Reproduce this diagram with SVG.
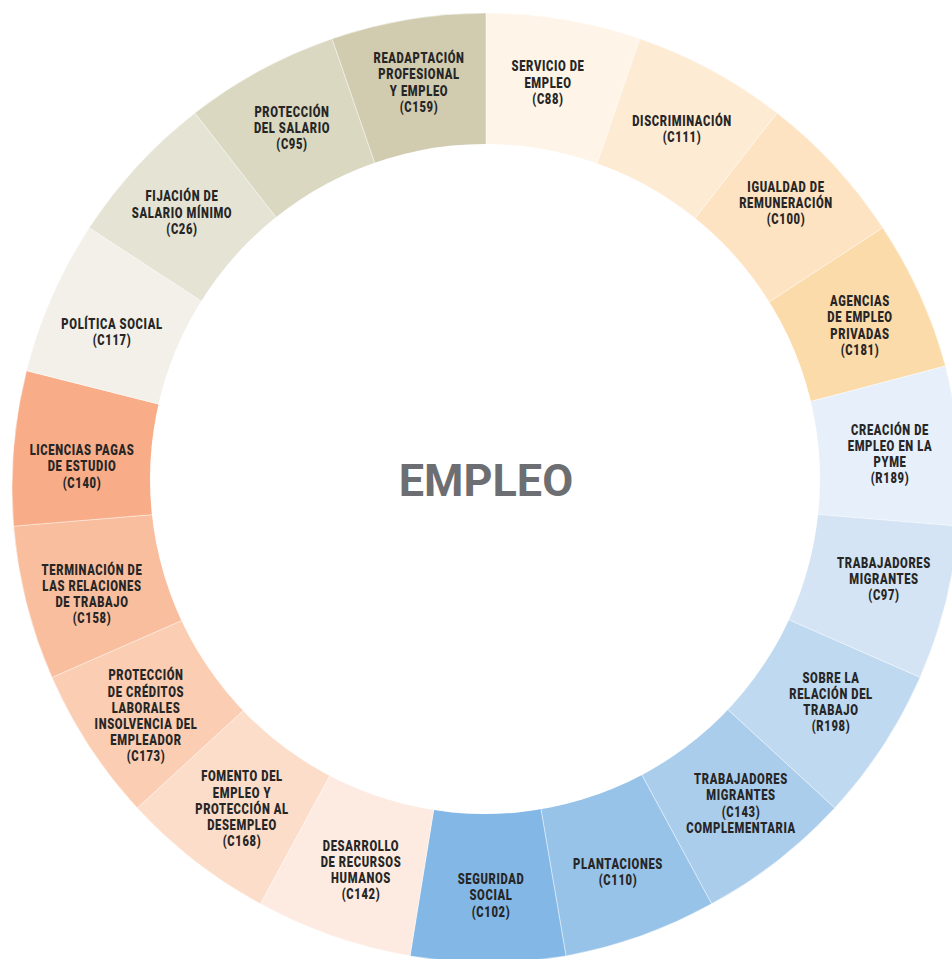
<svg xmlns="http://www.w3.org/2000/svg" width="952" height="959" viewBox="0 0 952 959">
<style>
.seg{stroke:#ffffff;stroke-width:0.6;stroke-opacity:0.7}
.lbl{font-family:Roboto,"Liberation Sans",sans-serif;font-weight:900;font-size:14px;letter-spacing:0.8px;fill:#262626;text-anchor:middle}
.hub{font-family:Roboto,"Liberation Sans",sans-serif;font-weight:700;font-size:45px;fill:#6d6e71;text-anchor:middle}
</style>
<rect width="952" height="959" fill="#ffffff"/>
<g id="segments">
<g id="n-c88"><path class="seg" fill="#fef4e8" d="M486 487 L486 13 A474 474 0 0 1 639.91 38.68 Z"/>
<text class="lbl" transform="translate(548 0) scale(0.8 1)"><tspan x="0" y="71.5">SERVICIO DE</tspan><tspan x="0" dy="16.3">EMPLEO</tspan><tspan x="0" dy="16.3">(C88)</tspan></text></g>
<g id="n-c111"><path class="seg" fill="#feebd4" d="M486 487 L639.91 38.68 A474 474 0 0 1 777.14 112.95 Z"/>
<text class="lbl" transform="translate(682 0) scale(0.8 1)"><tspan x="0" y="126.5">DISCRIMINACIÓN</tspan><tspan x="0" dy="16">(C111)</tspan></text></g>
<g id="n-c100"><path class="seg" fill="#fde3c1" d="M486 487 L777.14 112.95 A474 474 0 0 1 882.82 227.75 Z"/>
<text class="lbl" transform="translate(786 0) scale(0.8 1)"><tspan x="0" y="192.5">IGUALDAD DE</tspan><tspan x="0" dy="16">REMUNERACIÓN</tspan><tspan x="0" dy="16">(C100)</tspan></text></g>
<g id="n-c181"><path class="seg" fill="#fcdbaa" d="M486 487 L882.82 227.75 A474 474 0 0 1 945.5 366 Z"/>
<text class="lbl" transform="translate(860 0) scale(0.8 1)"><tspan x="0" y="306">AGENCIAS</tspan><tspan x="0" dy="16.3">DE EMPLEO</tspan><tspan x="0" dy="16.3">PRIVADAS</tspan><tspan x="0" dy="16.3">(C181)</tspan></text></g>
<g id="n-r189"><path class="seg" fill="#e6effa" d="M486 487 L945.5 366 A474 474 0 0 1 958.38 526.14 Z"/>
<text class="lbl" transform="translate(890 0) scale(0.8 1)"><tspan x="0" y="435.5">CREACIÓN DE</tspan><tspan x="0" dy="16">EMPLEO EN LA</tspan><tspan x="0" dy="16">PYME</tspan><tspan x="0" dy="16">(R189)</tspan></text></g>
<g id="n-c97"><path class="seg" fill="#d4e4f4" d="M486 487 L958.38 526.14 A474 474 0 0 1 920.07 677.41 Z"/>
<text class="lbl" transform="translate(884 0) scale(0.8 1)"><tspan x="0" y="568">TRABAJADORES</tspan><tspan x="0" dy="16">MIGRANTES</tspan><tspan x="0" dy="16">(C97)</tspan></text></g>
<g id="n-r198"><path class="seg" fill="#bfd9f0" d="M486 487 L920.07 677.41 A474 474 0 0 1 834.73 808.03 Z"/>
<text class="lbl" transform="translate(831 0) scale(0.8 1)"><tspan x="0" y="683.5">SOBRE LA</tspan><tspan x="0" dy="16">RELACIÓN DEL</tspan><tspan x="0" dy="16">TRABAJO</tspan><tspan x="0" dy="16">(R198)</tspan></text></g>
<g id="n-c143"><path class="seg" fill="#abcdec" d="M486 487 L834.73 808.03 A474 474 0 0 1 711.6 903.87 Z"/>
<text class="lbl" transform="translate(741 0) scale(0.8 1)"><tspan x="0" y="784">TRABAJADORES</tspan><tspan x="0" dy="16.3">MIGRANTES</tspan><tspan x="0" dy="16.3">(C143)</tspan><tspan x="0" dy="16.3">COMPLEMENTARIA</tspan></text></g>
<g id="n-c110"><path class="seg" fill="#98c3e8" d="M486 487 L711.6 903.87 A474 474 0 0 1 566 956 Z"/>
<text class="lbl" transform="translate(618 0) scale(0.8 1)"><tspan x="0" y="869">PLANTACIONES</tspan><tspan x="0" dy="16">(C110)</tspan></text></g>
<g id="n-c102"><path class="seg" fill="#83b8e6" d="M486 487 L566 956 A474 474 0 0 1 410 956 Z"/>
<text class="lbl" transform="translate(491 0) scale(0.8 1)"><tspan x="0" y="884">SEGURIDAD</tspan><tspan x="0" dy="16.5">SOCIAL</tspan><tspan x="0" dy="16.5">(C102)</tspan></text></g>
<g id="n-c142"><path class="seg" fill="#fdebe1" d="M486 487 L410 956 A474 474 0 0 1 260.4 903.87 Z"/>
<text class="lbl" transform="translate(361 0) scale(0.8 1)"><tspan x="0" y="851">DESARROLLO</tspan><tspan x="0" dy="16">DE RECURSOS</tspan><tspan x="0" dy="16">HUMANOS</tspan><tspan x="0" dy="16">(C142)</tspan></text></g>
<g id="n-c168"><path class="seg" fill="#fcddca" d="M486 487 L260.4 903.87 A474 474 0 0 1 137.27 808.03 Z"/>
<text class="lbl" transform="translate(242 0) scale(0.8 1)"><tspan x="0" y="781.5">FOMENTO DEL</tspan><tspan x="0" dy="16.2">EMPLEO Y</tspan><tspan x="0" dy="16.2">PROTECCIÓN AL</tspan><tspan x="0" dy="16.2">DESEMPLEO</tspan><tspan x="0" dy="16.2">(C168)</tspan></text></g>
<g id="n-c173"><path class="seg" fill="#fbcdb3" d="M486 487 L137.27 808.03 A474 474 0 0 1 51.93 677.41 Z"/>
<text class="lbl" transform="translate(146 0) scale(0.8 1)"><tspan x="0" y="680.5">PROTECCIÓN</tspan><tspan x="0" dy="16.2">DE CRÉDITOS</tspan><tspan x="0" dy="16.2">LABORALES</tspan><tspan x="0" dy="16.2">INSOLVENCIA DEL</tspan><tspan x="0" dy="16.2">EMPLEADOR</tspan><tspan x="0" dy="16.2">(C173)</tspan></text></g>
<g id="n-c158"><path class="seg" fill="#f9be9d" d="M486 487 L51.93 677.41 A474 474 0 0 1 13.62 526.14 Z"/>
<text class="lbl" transform="translate(92 0) scale(0.8 1)"><tspan x="0" y="575">TERMINACIÓN DE</tspan><tspan x="0" dy="16">LAS RELACIONES</tspan><tspan x="0" dy="16">DE TRABAJO</tspan><tspan x="0" dy="16">(C158)</tspan></text></g>
<g id="n-c140"><path class="seg" fill="#f8ad88" d="M486 487 L13.62 526.14 A474 474 0 0 1 26.5 370.64 Z"/>
<text class="lbl" transform="translate(82 0) scale(0.8 1)"><tspan x="0" y="455">LICENCIAS PAGAS</tspan><tspan x="0" dy="16.3">DE ESTUDIO</tspan><tspan x="0" dy="16.3">(C140)</tspan></text></g>
<g id="n-c117"><path class="seg" fill="#f2f0e9" d="M486 487 L26.5 370.64 A474 474 0 0 1 89.18 227.75 Z"/>
<text class="lbl" transform="translate(112 0) scale(0.8 1)"><tspan x="0" y="329">POLÍTICA SOCIAL</tspan><tspan x="0" dy="16">(C117)</tspan></text></g>
<g id="n-c26"><path class="seg" fill="#e5e3d4" d="M486 487 L89.18 227.75 A474 474 0 0 1 194.86 112.95 Z"/>
<text class="lbl" transform="translate(182 0) scale(0.8 1)"><tspan x="0" y="201.5">FIJACIÓN DE</tspan><tspan x="0" dy="16.2">SALARIO MÍNIMO</tspan><tspan x="0" dy="16.2">(C26)</tspan></text></g>
<g id="n-c95"><path class="seg" fill="#dad8c1" d="M486 487 L194.86 112.95 A474 474 0 0 1 332.09 38.68 Z"/>
<text class="lbl" transform="translate(292 0) scale(0.8 1)"><tspan x="0" y="117">PROTECCIÓN</tspan><tspan x="0" dy="16">DEL SALARIO</tspan><tspan x="0" dy="16">(C95)</tspan></text></g>
<g id="n-c159"><path class="seg" fill="#d1ccb0" d="M486 487 L332.09 38.68 A474 474 0 0 1 486 13 Z"/>
<text class="lbl" transform="translate(419 0) scale(0.8 1)"><tspan x="0" y="63">READAPTACIÓN</tspan><tspan x="0" dy="16.3">PROFESIONAL</tspan><tspan x="0" dy="16.3">Y EMPLEO</tspan><tspan x="0" dy="16.3">(C159)</tspan></text></g>
</g>
<g id="n-empleo">
<circle cx="485" cy="479" r="335" fill="#ffffff"/>
<text class="hub" x="486" y="495.5">EMPLEO</text>
</g>
<g id="connectors"/>
</svg>
